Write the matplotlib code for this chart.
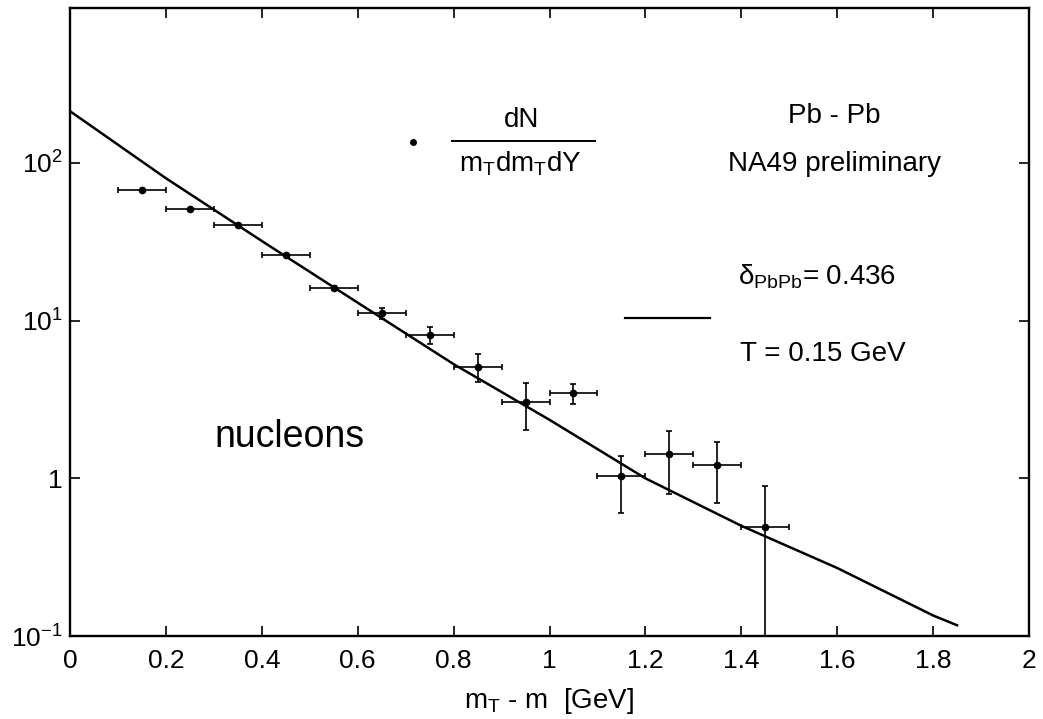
import matplotlib
matplotlib.use('Agg')
import matplotlib.pyplot as plt

# nucleon m_T spectrum, Pb-Pb (NA49 preliminary)
mt = [0.15, 0.25, 0.35, 0.45, 0.55, 0.65, 0.75, 0.85, 0.95, 1.05, 1.15, 1.25, 1.35, 1.45]
dn = [67, 51, 40.5, 26.2, 16.2, 11.1, 8.1, 5.1, 3.04, 3.47, 1.03, 1.42, 1.22, 0.49]
dn_lo = [0, 0, 0, 0, 0.5, 0.9, 1.0, 1.0, 1.0, 0.5, 0.43, 0.63, 0.52, 0.48]
dn_hi = [0, 0, 0, 0, 0.5, 1.0, 1.0, 1.0, 1.0, 0.5, 0.35, 0.57, 0.48, 0.40]
mt_err = [0.05] * 14

# fit curve
fit_x = [0.0, 0.2, 0.4, 0.6, 0.8, 1.0, 1.2, 1.4, 1.6, 1.8, 1.85]
fit_y = [213, 80, 32, 13, 5.3, 2.35, 1.0, 0.5, 0.27, 0.135, 0.117]

xticks = [0, 0.2, 0.4, 0.6, 0.8, 1.0, 1.2, 1.4, 1.6, 1.8, 2.0]
xlabels = ['0', '0.2', '0.4', '0.6', '0.8', '1', '1.2', '1.4', '1.6', '1.8', '2']
yticks = [0.1, 1, 10, 100]
ylabels = [r'$\mathregular{10^{-1}}$', '1', r'$\mathregular{10^{1}}$', r'$\mathregular{10^{2}}$']

plt.rcParams['font.family'] = ['Liberation Sans', 'DejaVu Sans']

fig = plt.figure(figsize=(10.43, 7.19), dpi=100)
ax = fig.add_axes([0.0671, 0.1154, 0.9195, 0.8734])

ax.errorbar(mt, dn, xerr=mt_err, yerr=[dn_lo, dn_hi], fmt='o', color='black',
            markersize=4.5, elinewidth=1.2, capsize=2.5, capthick=1.2)
ax.plot(fit_x, fit_y, color='black', linewidth=1.8)

ax.set_yscale('log')
ax.set_xlim(0, 2)
ax.set_ylim(0.1, 960)
ax.set_xticks(xticks)
ax.set_xticklabels(xlabels)
ax.set_yticks(yticks)
ax.set_yticklabels(ylabels)
ax.minorticks_off()
ax.tick_params(direction='in', length=7, width=1.2, labelsize=19,
               top=True, right=True)
ax.tick_params(axis='x', pad=9)
ax.tick_params(axis='y', pad=5)
for s in ax.spines.values():
    s.set_linewidth(1.7)

ax.set_xlabel(r'm$_\mathregular{T}$ - m  [GeV]', fontsize=20, labelpad=10)

# annotations
tr = ax.transAxes
ax.plot([0.358], [0.787], 'o', color='black', markersize=4, transform=tr, clip_on=False)
ax.plot([0.398, 0.547], [0.788, 0.788], color='black', linewidth=1.4, transform=tr)
ax.text(0.471, 0.822, 'dN', transform=tr, fontsize=20, ha='center', va='center')
ax.text(0.470, 0.752, r'm$_\mathregular{T}$dm$_\mathregular{T}$dY', transform=tr,
        fontsize=20, ha='center', va='center')
ax.text(0.797, 0.828, 'Pb - Pb', transform=tr, fontsize=20, ha='center', va='center')
ax.text(0.797, 0.752, 'NA49 preliminary', transform=tr, fontsize=20, ha='center', va='center')
ax.text(0.697, 0.572, r'δ$_\mathregular{PbPb}$= 0.436', transform=tr, fontsize=20,
        ha='left', va='center')
ax.plot([0.579, 0.667], [0.506, 0.506], color='black', linewidth=1.6, transform=tr)
ax.text(0.699, 0.449, 'T = 0.15 GeV', transform=tr, fontsize=20, ha='left', va='center')
ax.text(0.151, 0.317, 'nucleons', transform=tr, fontsize=27, ha='left', va='center')

fig.savefig('out.png', dpi=100)
